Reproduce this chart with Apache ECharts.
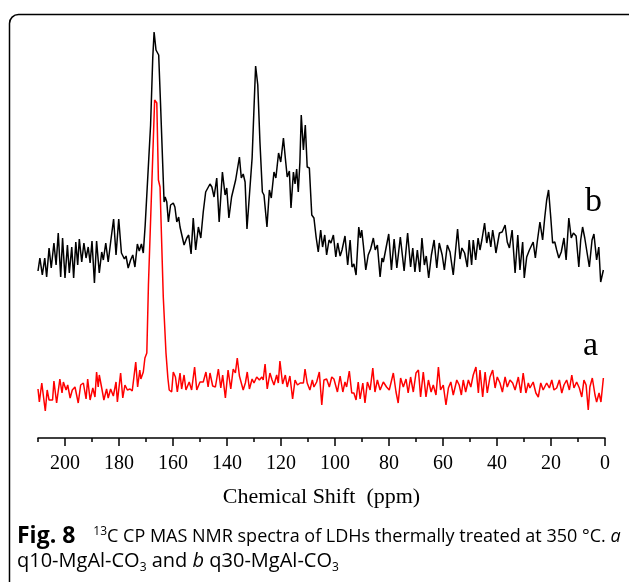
<!DOCTYPE html>
<html><head><meta charset="utf-8">
<script src="https://cdn.jsdelivr.net/npm/echarts@6/dist/echarts.min.js"></script>
<style>html,body{margin:0;padding:0;background:#fff}#c{width:629px;height:582px}</style>
</head><body><div id="c"></div>
<script>
// x-axis ticks (ppm)
const tickLabels = [0,20,40,60,80,100,120,140,160,180,200];
// series b (q30-MgAl-CO3), black: chemical shift (ppm) and intensity (a.u.)
const bPpm = [210.0,209.3,208.4,207.5,206.8,205.9,205.1,204.1,203.3,202.5,201.6,200.9,200.0,199.1,198.4,197.5,196.8,196.0,195.3,194.7,193.8,193.0,192.2,191.4,190.7,190.0,189.1,188.3,187.3,186.4,185.8,184.9,184.0,183.0,182.0,181.1,180.1,179.1,178.0,177.4,176.6,175.7,174.9,174.1,173.2,172.5,171.7,171.0,170.3,169.7,168.3,167.5,167.0,166.3,165.7,165.3,164.6,163.8,163.3,162.9,162.3,161.7,160.9,159.9,159.3,158.6,157.9,157.4,156.7,155.9,154.9,154.2,153.3,152.5,151.6,150.6,149.7,148.8,147.9,147.1,146.3,145.6,144.8,143.8,142.9,141.7,140.7,140.1,139.3,138.3,137.7,136.8,136.2,135.4,134.7,134.0,133.3,132.6,130.7,130.0,129.4,128.6,127.8,126.9,126.3,125.2,124.3,123.6,122.6,121.9,120.9,120.1,119.1,118.4,117.7,116.9,116.3,115.4,114.8,114.2,113.6,113.0,112.5,111.7,111.0,110.3,109.5,108.6,107.8,107.0,106.2,105.3,104.6,103.8,103.1,102.2,101.5,100.6,99.7,99.0,98.1,97.4,96.3,95.3,94.4,93.7,93.0,92.2,91.2,90.6,90.1,89.5,88.6,87.7,86.8,85.8,85.1,84.3,83.3,82.6,82.1,81.1,80.1,79.1,78.1,77.1,75.8,74.4,73.1,72.0,71.2,70.4,69.5,68.6,67.8,66.9,66.2,65.3,64.3,63.3,62.3,61.4,60.3,59.5,58.4,57.4,56.2,54.6,53.7,53.0,52.0,51.0,50.3,49.4,48.8,47.9,47.0,46.3,45.6,44.6,43.8,43.1,42.3,41.6,40.9,40.4,39.1,38.1,37.0,36.2,35.4,34.4,33.3,32.3,31.5,30.5,29.9,29.0,28.0,27.3,26.6,25.8,25.1,24.1,23.1,22.3,21.6,20.9,20.1,19.4,18.6,17.9,17.1,16.2,15.2,14.4,13.4,12.5,11.7,10.7,9.7,9.0,8.3,7.5,6.8,5.8,4.8,4.1,3.1,2.3,1.6,0.6];
const bInt = [167,180,163,180,161,190,170,195,173,205,161,200,160,193,165,191,160,196,173,199,176,195,180,191,175,197,155,197,165,186,178,195,176,198,219,183,219,185,179,182,170,178,183,171,194,187,194,185,213,214,313,380,406,388,389,383,333,273,236,241,236,216,233,235,231,216,221,211,211,193,200,203,184,220,188,211,200,226,246,250,254,251,241,260,216,266,243,250,220,241,240,258,256,281,260,264,256,209,280,330,372,353,296,246,243,211,248,240,266,260,285,276,300,280,261,267,230,266,254,269,246,276,323,288,313,271,270,223,220,201,186,208,191,203,183,198,195,203,181,195,182,188,202,173,198,171,174,163,211,200,208,193,168,183,189,200,188,193,161,180,176,190,204,168,199,170,201,167,205,171,190,166,188,166,200,173,182,160,183,198,170,195,183,168,193,186,163,209,179,190,185,171,198,173,198,178,200,188,198,215,195,206,191,208,196,185,205,206,213,196,190,208,165,203,168,196,160,181,188,186,196,180,196,216,198,221,238,248,221,195,196,188,180,186,200,178,220,200,205,202,171,198,211,200,188,171,198,204,178,191,156,168];
// series a (q10-MgAl-CO3), red
const aPpm = [210.0,209.5,208.6,208.0,207.3,206.6,205.9,205.2,204.6,204.1,203.1,201.9,201.1,200.6,199.6,199.0,198.1,197.3,196.3,195.1,194.2,193.2,192.2,191.6,190.7,189.7,188.9,188.3,187.7,187.3,186.4,185.6,184.6,184.0,183.1,182.1,181.1,180.6,179.4,178.6,177.8,176.9,175.9,175.1,173.8,173.1,172.3,171.9,171.0,170.4,169.7,169.1,166.8,166.3,166.0,165.4,164.8,163.6,162.6,161.9,161.4,160.5,159.9,159.1,158.4,157.4,156.8,155.9,155.2,154.0,153.1,152.0,151.2,150.0,148.8,147.8,147.0,146.3,145.3,144.3,143.2,142.3,141.6,140.6,139.6,138.6,137.7,136.9,136.2,135.4,134.7,134.0,133.2,132.5,131.7,130.7,130.0,129.0,128.0,127.1,126.6,125.9,125.1,124.1,123.3,122.6,121.6,121.0,120.4,119.4,118.4,117.7,116.7,115.7,114.8,113.9,112.9,111.7,111.1,110.3,109.3,108.4,107.8,106.8,105.8,104.9,104.1,103.1,102.1,101.2,100.4,99.1,98.1,97.1,96.3,95.7,94.7,93.8,93.0,92.2,91.4,90.7,89.7,88.9,88.0,87.0,86.0,85.2,84.3,83.3,82.1,80.9,79.9,78.4,77.4,76.6,75.7,74.7,73.7,72.9,72.0,71.0,70.0,69.1,68.3,67.3,66.3,65.4,64.4,63.6,62.6,61.7,60.9,59.9,58.9,58.0,57.1,56.2,54.9,54.0,53.2,52.5,51.6,50.6,49.7,48.8,47.8,46.9,46.3,45.3,44.4,43.6,42.6,41.6,40.7,39.9,38.9,38.0,37.0,36.2,35.2,34.2,33.3,32.1,31.2,30.3,29.3,28.4,27.8,26.6,25.6,24.7,23.8,22.9,21.6,20.6,19.7,18.9,17.9,16.9,16.0,15.2,14.2,13.2,12.3,11.5,10.5,9.5,8.6,7.8,7.0,6.2,5.6,4.7,3.7,3.1,2.2,1.5,0.6];
const aInt = [49,36,55,56,27,48,38,40,38,57,35,59,45,56,48,53,40,48,51,35,53,55,39,59,38,50,41,66,51,63,50,38,49,40,49,42,56,36,65,40,53,48,49,47,76,51,68,59,66,80,85,153,338,336,335,258,251,141,85,60,48,46,66,61,46,65,49,63,48,56,48,71,48,56,56,66,51,65,52,51,69,50,63,40,68,49,69,65,80,62,63,48,55,66,49,59,55,61,58,61,58,74,49,65,58,53,63,55,77,54,63,51,62,39,58,53,55,55,69,55,48,58,51,56,66,33,58,59,51,61,59,46,62,46,56,51,67,45,45,38,56,39,55,35,56,48,70,46,58,48,56,51,48,65,46,35,60,51,59,45,61,46,65,68,41,66,41,58,46,53,43,71,48,53,33,50,56,43,58,53,43,58,46,58,51,63,71,45,68,41,66,45,61,68,50,61,55,46,61,51,58,55,48,61,45,65,45,55,50,56,45,41,55,48,55,50,58,48,50,58,45,53,58,48,63,50,56,50,41,58,53,28,51,60,43,36,45,36,60];
const labelB = 'b', labelA = 'a';

const toPairs = (xs, ys) => xs.map((x, i) => [x, ys[i]]);
const chart = echarts.init(document.getElementById('c'), null, {renderer: 'canvas'});
const serif = 'Liberation Serif';
const capFont = 'Open Sans';
chart.setOption({
  animation: false,
  backgroundColor: '#fff',
  grid: {left: 38, right: 24, top: 18, bottom: 144, containLabel: false},
  xAxis: [{
    type: 'value', inverse: true, min: 0, max: 210,
    axisLine: {lineStyle: {color: '#000', width: 1.5}},
    axisTick: {length: 8, lineStyle: {color: '#000', width: 1.5}, customValues: tickLabels},
    axisLabel: {customValues: tickLabels, color: '#000', fontFamily: serif, fontSize: 20, margin: 16},
    splitLine: {show: false},
    name: 'Chemical Shift  (ppm)', nameLocation: 'middle', nameGap: 48,
    nameTextStyle: {color: '#000', fontFamily: serif, fontSize: 22}
  }, {
    type: 'value', inverse: true, min: 0, max: 210, interval: 10, position: 'bottom',
    axisLine: {show: false},
    axisTick: {length: 4, lineStyle: {color: '#000', width: 1.5}},
    axisLabel: {show: false}, splitLine: {show: false}
  }],
  yAxis: {type: 'value', min: 0, max: 420, show: false},
  series: [
    {type: 'line', data: toPairs(bPpm, bInt), showSymbol: false, lineStyle: {color: '#000', width: 1.5}, silent: true},
    {type: 'line', data: toPairs(aPpm, aInt), showSymbol: false, lineStyle: {color: '#ff0000', width: 1.5}, silent: true}
  ],
  graphic: [
    {type: 'rect', shape: {x: 9.5, y: 14.5, width: 660, height: 640, r: 9}, style: {fill: 'none', stroke: '#000', lineWidth: 1.5}, silent: true},
    {type: 'text', left: 585, top: 185, style: {text: labelB, font: '34px "Liberation Serif"', fill: '#000'}},
    {type: 'text', left: 583, top: 329, style: {text: labelA, font: '34px "Liberation Serif"', fill: '#000'}},
    {type: 'text', left: 17, top: 524, style: {
      text: '{b|Fig. 8}{g2| }{sup|13}{n|C CP MAS NMR spectra of LDHs thermally treated at 350 °C. }{i|a}\n{m|q10-MgAl-CO}{sub|3}{m| and }{mi|b}{m| q30-MgAl-CO}{sub|3}',
      fill: '#000', lineHeight: 25,
      rich: {
        b: {fontFamily: capFont, fontWeight: 'bold', fontSize: 23, lineHeight: 25},
        g2: {fontFamily: capFont, fontSize: 19, width: 18, lineHeight: 25},
        n: {fontFamily: capFont, fontSize: 18, lineHeight: 25},
        i: {fontFamily: capFont, fontStyle: 'italic', fontSize: 18, lineHeight: 25},
        m: {fontFamily: capFont, fontSize: 20, lineHeight: 25},
        mi: {fontFamily: capFont, fontStyle: 'italic', fontSize: 20, lineHeight: 25},
        sup: {fontFamily: capFont, fontSize: 12, lineHeight: 25, verticalAlign: 'top', padding: [2,0,0,0]},
        sub: {fontFamily: capFont, fontSize: 12, lineHeight: 25, verticalAlign: 'bottom'}
      }
    }}
  ]
});
</script></body></html>
